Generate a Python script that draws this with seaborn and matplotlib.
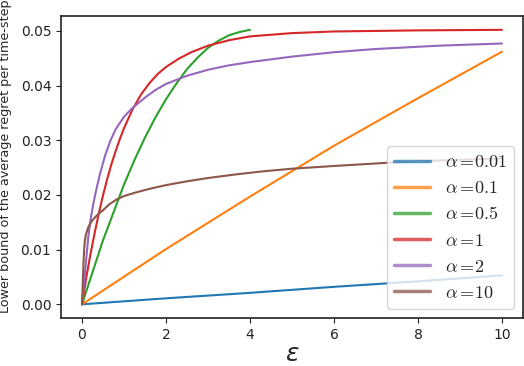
import matplotlib
matplotlib.use("Agg")
import matplotlib.pyplot as plt
import seaborn as sns
import pandas as pd
from matplotlib.lines import Line2D

# ---- data ----
alphas = ["0.01", "0.1", "0.5", "1", "2", "10"]

eps_a001 = [0, 2, 4, 6, 8, 10]
val_a001 = [0, 0.0011, 0.0021, 0.0032, 0.0042, 0.0053]

eps_a01 = [0, 2, 4, 6, 8, 10]
val_a01 = [0, 0.0101, 0.0197, 0.0290, 0.0377, 0.0462]

eps_a05 = [0, 0.5, 1.0, 1.25, 1.5, 1.75, 2.0, 2.25, 2.5, 2.75, 3.0, 3.25, 3.5, 3.75, 4.0]
val_a05 = [0, 0.0117, 0.0219, 0.0264, 0.0305, 0.0342, 0.0375, 0.0404, 0.0430, 0.0451,
           0.0469, 0.0482, 0.0492, 0.0498, 0.0502]

eps_a1 = [0, 0.1, 0.2, 0.3, 0.4, 0.5, 0.6, 0.7, 0.8, 0.9, 1.0, 1.2, 1.4, 1.6, 1.8, 2.0,
          2.3, 2.6, 3.0, 3.5, 4.0, 5.0, 6.0, 8.0, 10.0]
val_a1 = [0, 0.0048, 0.0091, 0.0130, 0.0166, 0.0199, 0.0229, 0.0256, 0.0280, 0.0302, 0.0322,
          0.0356, 0.0383, 0.0404, 0.0421, 0.0434, 0.0449, 0.0461, 0.0473, 0.0483, 0.0490,
          0.0496, 0.0499, 0.0501, 0.0502]

eps_a2 = [0, 0.03, 0.07, 0.1, 0.15, 0.2, 0.27, 0.35, 0.43, 0.55, 0.67, 0.8, 1.0, 1.2, 1.5,
          1.75, 2.0, 2.5, 3.0, 3.5, 4.0, 5.0, 6.0, 7.0, 8.5, 10.0]
val_a2 = [0, 0.0025, 0.0056, 0.0082, 0.0123, 0.0153, 0.0184, 0.0213, 0.0239, 0.0272, 0.0298,
          0.0320, 0.0343, 0.0359, 0.0378, 0.0392, 0.0403, 0.0418, 0.0429, 0.0437, 0.0443,
          0.0453, 0.0461, 0.0467, 0.0473, 0.0477]

eps_a10 = [0, 0.02, 0.04, 0.06, 0.09, 0.15, 0.22, 0.31, 0.4, 0.5, 0.65, 0.83, 1.0, 1.3, 1.6,
           2.0, 2.5, 3.0, 3.6, 4.28, 5.0, 6.0, 7.3, 8.5, 10.0]
val_a10 = [0, 0.0042, 0.0083, 0.0110, 0.0127, 0.0141, 0.0151, 0.0159, 0.0166, 0.0172, 0.0183,
           0.0192, 0.0198, 0.0205, 0.0211, 0.0218, 0.0225, 0.0231, 0.0237, 0.0243, 0.0248,
           0.0253, 0.0259, 0.0263, 0.0267]

series = [(eps_a001, val_a001), (eps_a01, val_a01), (eps_a05, val_a05),
          (eps_a1, val_a1), (eps_a2, val_a2), (eps_a10, val_a10)]

rows = []
for a, (xs, ys) in zip(alphas, series):
    for x, y in zip(xs, ys):
        rows.append({"eps": x, "val": y, "alpha": a})
df = pd.DataFrame(rows)

sns.set_style("ticks")
plt.rcParams["mathtext.fontset"] = "cm"

fig = plt.figure(figsize=(5.24, 3.66), dpi=100)
ax = fig.add_axes([0.1164, 0.131, 0.8816, 0.825])

palette = sns.color_palette("tab10", 6)
sns.lineplot(data=df, x="eps", y="val", hue="alpha", hue_order=alphas,
             palette=palette, sort=False, estimator=None, linewidth=1.5, ax=ax, legend=False)

ax.set_xticks([0, 2, 4, 6, 8, 10])
ax.set_yticks([0, 0.01, 0.02, 0.03, 0.04, 0.05])
ax.set_yticklabels(["0.00", "0.01", "0.02", "0.03", "0.04", "0.05"])
ax.tick_params(labelsize=10, colors="#222222", labelcolor="#222222")
for s in ax.spines.values():
    s.set_color("#222222")
    s.set_linewidth(1.2)

ax.set_xlabel(r"$\varepsilon$", fontsize=18)
ax.xaxis.label.set_math_fontfamily("dejavusans")
ax.set_ylabel("Lower bound of the average regret per time-step", fontsize=9.2)
ax.yaxis.set_label_coords(-0.105, 0.535)
ax.xaxis.set_label_coords(0.5, -0.08)

handles = [Line2D([], [], color=c, lw=2.5, alpha=0.75) for c in palette]
labels = [r"$\alpha=\!$" + r"$%s$" % a for a in alphas]
ax.legend(handles, labels, loc="lower right", fontsize=13, frameon=True,
          borderaxespad=0.5, labelspacing=0.45)

fig.savefig("out.png", dpi=100)
